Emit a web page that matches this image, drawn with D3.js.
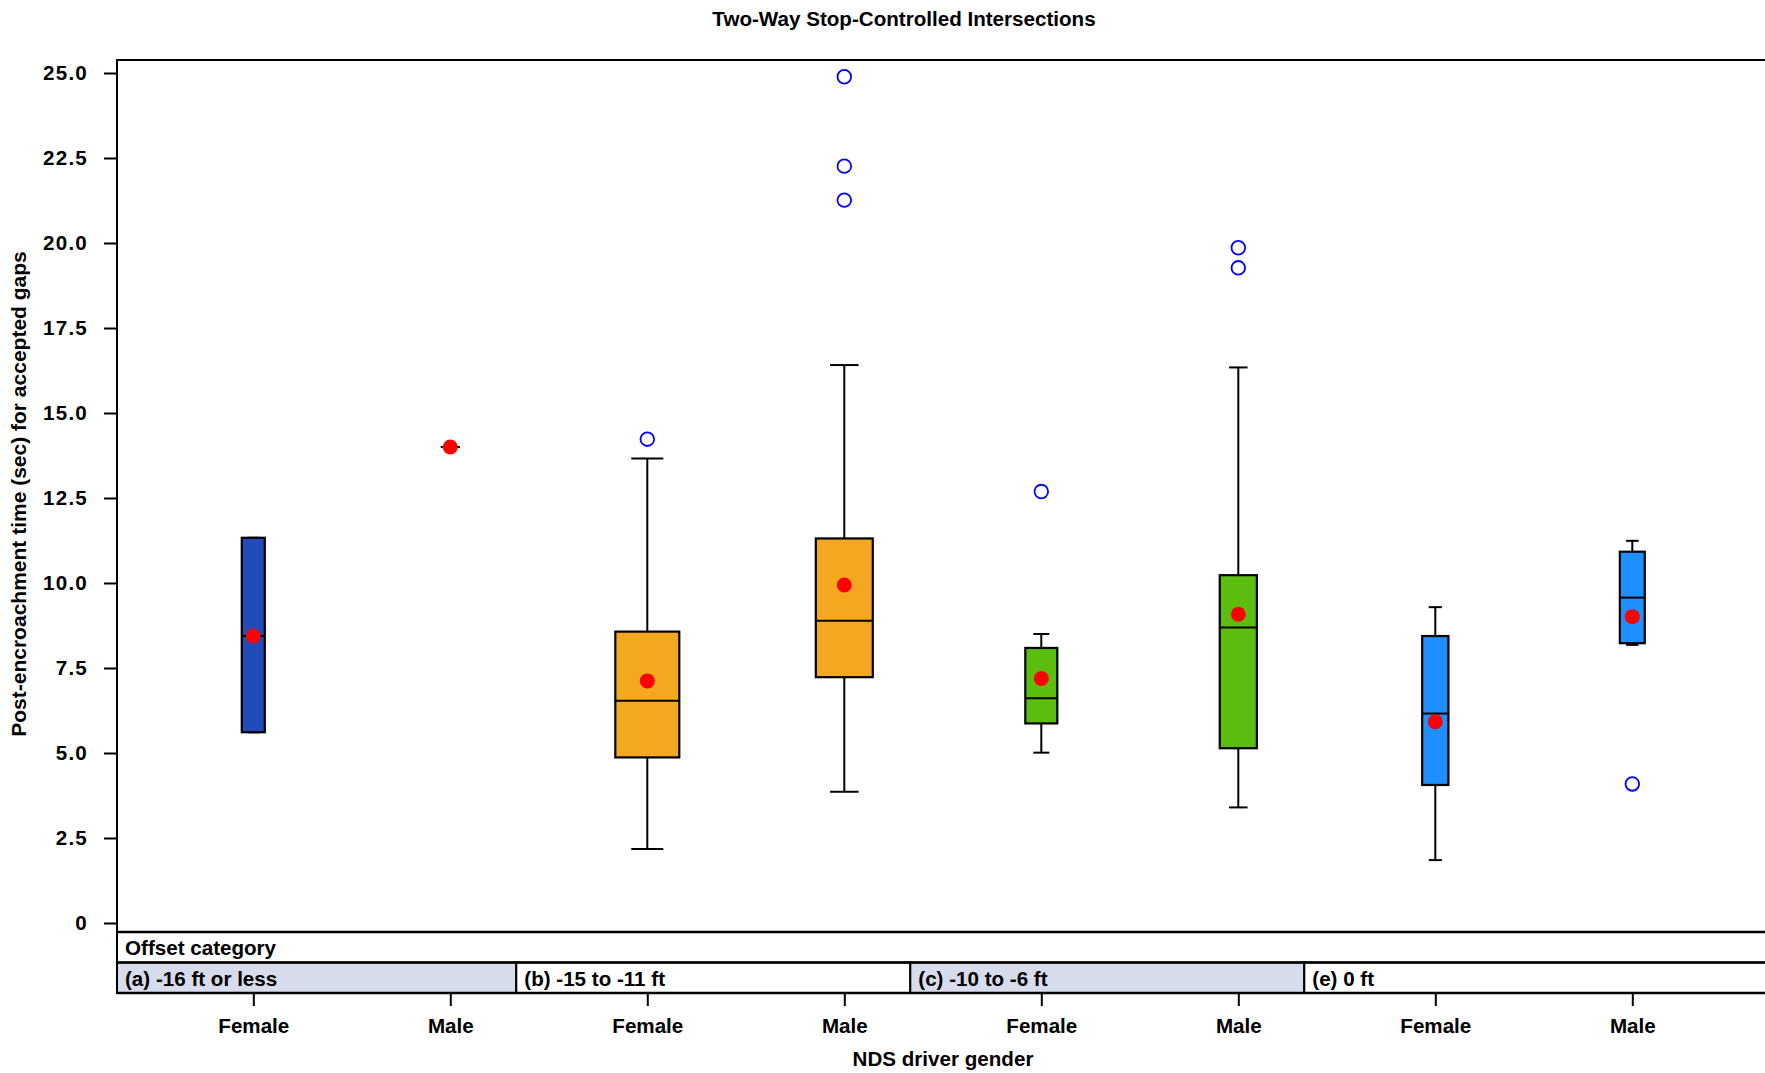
<!DOCTYPE html>
<html><head><meta charset="utf-8">
<script src="https://cdn.jsdelivr.net/npm/d3@7"></script>
<style>
html,body{margin:0;padding:0;background:#fff;}
svg{display:block;font-family:"Liberation Sans",Arial,Helvetica,sans-serif;font-weight:bold;}
</style></head><body>
<svg id="chart" width="1765" height="1073"></svg>
<script>
// ---- data ----
const title = "Two-Way Stop-Controlled Intersections";
const yTitle = "Post-encroachment time (sec) for accepted gaps";
const xTitle = "NDS driver gender";
const stripTitle = "Offset category";
const offsetLevels = ["(a) -16 ft or less", "(b) -15 to -11 ft", "(c) -10 to -6 ft", "(e) 0 ft"];
const genders = ["Female", "Male"];
const groupColors = ["#234BB7", "#F4A81F", "#5BBE0E", "#1E90FF"];
const yTicks = [0, 2.5, 5, 7.5, 10, 12.5, 15, 17.5, 20, 22.5, 25];
const yTickLabels = ["0", "2.5", "5.0", "7.5", "10.0", "12.5", "15.0", "17.5", "20.0", "22.5", "25.0"];
// one entry per box, order: (a)F, (a)M, (b)F, (b)M, (c)F, (c)M, (e)F, (e)M
const whiskerLow  = [5.61, 14.0, 2.18, 3.86, 5.01, 3.40, 1.85, 8.18];
const q1          = [5.61, 14.0, 4.87, 7.23, 5.87, 5.14, 4.06, 8.23];
const median      = [8.44, 14.0, 6.54, 8.89, 6.61, 8.69, 6.16, 9.57];
const q3          = [11.33, 14.0, 8.57, 11.31, 8.09, 10.23, 8.44, 10.92];
const whiskerHigh = [11.33, 14.0, 13.66, 16.41, 8.50, 16.34, 9.29, 11.24];
const means       = [8.44, 14.0, 7.12, 9.94, 7.19, 9.08, 5.92, 9.01];
const outliers    = [[], [], [14.23], [24.89, 22.26, 21.26], [12.69], [19.86, 19.27], [], [4.09]];
// relative box width (variable width ~ group size)
const relWidth    = [0.36, 0.30, 1.0, 0.89, 0.50, 0.58, 0.41, 0.39];

// ---- layout ----
const svg = d3.select("#chart");
const panel = {left: 117, top: 60, right: 1785, bottom: 932};
const stripH = 30.5;
const x = d3.scaleLinear().domain([1, 8]).range([253.3, 1632.3]);
const y = d3.scaleLinear().domain([0, 25]).range([923, 73]);
const wScale = d3.scaleLinear().domain([0, 1]).range([0, 64]);
const fontSize = 20.6;

const boxes = d3.range(8).map(i => ({
  i, pos: i + 1, group: Math.floor(i / 2), gender: genders[i % 2],
  lo: whiskerLow[i], q1: q1[i], med: median[i], q3: q3[i], hi: whiskerHigh[i],
  mean: means[i], out: outliers[i], w: wScale(relWidth[i])
}));

// title
svg.append("text").attr("x", 904).attr("y", 26).attr("text-anchor", "middle")
  .attr("font-size", fontSize).text(title);

// y axis
const yAxis = d3.axisLeft(y).tickValues(yTicks).tickFormat((d, i) => yTickLabels[i])
  .tickSize(13).tickPadding(16);
const gy = svg.append("g").attr("transform", `translate(${panel.left},0)`).call(yAxis);
gy.select(".domain").remove();
gy.selectAll(".tick line").attr("stroke", "#000").attr("stroke-width", 2);
gy.selectAll(".tick text").attr("font-size", fontSize).attr("font-family", "inherit")
  .attr("letter-spacing", "1.2px").attr("fill", "#000");

svg.append("text").attr("transform", `translate(26,494) rotate(-90)`)
  .attr("text-anchor", "middle").attr("font-size", 21).text(yTitle);

// boxes
const g = svg.append("g");
boxes.forEach(b => {
  const cx = x(b.pos), col = groupColors[b.group];
  // whiskers
  g.append("line").attr("x1", cx).attr("x2", cx).attr("y1", y(b.q3)).attr("y2", y(b.hi))
    .attr("stroke", "#000").attr("stroke-width", 2);
  g.append("line").attr("x1", cx).attr("x2", cx).attr("y1", y(b.q1)).attr("y2", y(b.lo))
    .attr("stroke", "#000").attr("stroke-width", 2);
  [b.hi, b.lo].forEach(v => g.append("line").attr("x1", cx - b.w / 4).attr("x2", cx + b.w / 4)
    .attr("y1", y(v)).attr("y2", y(v)).attr("stroke", "#000").attr("stroke-width", 2));
  // box
  g.append("rect").attr("x", cx - b.w / 2).attr("width", b.w)
    .attr("y", y(b.q3)).attr("height", Math.max(0, y(b.q1) - y(b.q3)))
    .attr("fill", col).attr("stroke", "#000").attr("stroke-width", 2.2);
  g.append("line").attr("x1", cx - b.w / 2).attr("x2", cx + b.w / 2)
    .attr("y1", y(b.med)).attr("y2", y(b.med)).attr("stroke", "#000").attr("stroke-width", 2);
  // outliers
  b.out.forEach(v => g.append("circle").attr("cx", cx).attr("cy", y(v)).attr("r", 6.8)
    .attr("fill", "none").attr("stroke", "#0000FF").attr("stroke-width", 1.8));
  // mean
  g.append("circle").attr("cx", cx).attr("cy", y(b.mean)).attr("r", 7.5).attr("fill", "#FF0000");
});

// panel frame
svg.append("rect").attr("x", panel.left).attr("y", panel.top)
  .attr("width", panel.right - panel.left).attr("height", panel.bottom + 2 * stripH - panel.top)
  .attr("fill", "none").attr("stroke", "#000").attr("stroke-width", 2);

// strip
const s1 = panel.bottom, s2 = panel.bottom + stripH, s3 = panel.bottom + 2 * stripH;
svg.append("text").attr("x", panel.left + 8).attr("y", s1 + 23).attr("font-size", fontSize).text(stripTitle);
offsetLevels.forEach((lab, k) => {
  const x0 = k === 0 ? panel.left : x(2 * k + 0.335);
  const x1 = k === offsetLevels.length - 1 ? panel.right : x(2 * k + 2.335);
  svg.append("rect").attr("x", x0).attr("y", s2).attr("width", x1 - x0).attr("height", stripH)
    .attr("fill", k % 2 === 0 ? "#D6DCEC" : "#FFFFFF").attr("stroke", "#000").attr("stroke-width", 2);
  svg.append("text").attr("x", x0 + 8).attr("y", s2 + 23).attr("font-size", fontSize).text(lab);
});
[s1, s2, s3].forEach(yy => svg.append("line").attr("x1", panel.left).attr("x2", panel.right)
  .attr("y1", yy).attr("y2", yy).attr("stroke", "#000").attr("stroke-width", 2.4));

// x axis
const xAxis = d3.axisBottom(x).tickValues(boxes.map(b => b.pos))
  .tickFormat((d, i) => boxes[i].gender).tickSize(13).tickPadding(12);
const gx = svg.append("g").attr("transform", `translate(0,${s3})`).call(xAxis);
gx.select(".domain").remove();
gx.selectAll(".tick line").attr("stroke", "#000").attr("stroke-width", 2);
gx.selectAll(".tick text").attr("font-size", fontSize).attr("font-family", "inherit").attr("fill", "#000");

svg.append("text").attr("x", 943).attr("y", 1066).attr("text-anchor", "middle")
  .attr("font-size", fontSize).text(xTitle);
</script>
</body></html>
